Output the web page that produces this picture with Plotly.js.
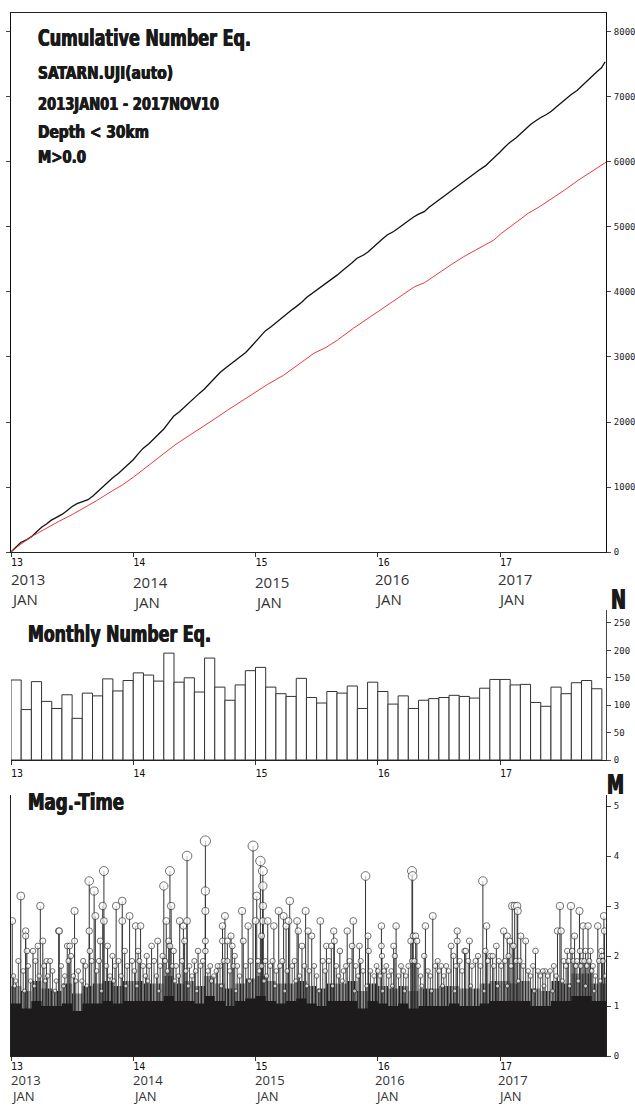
<!DOCTYPE html>
<html><head><meta charset="utf-8">
<script src="https://cdn.plot.ly/plotly-3.0.1.min.js"></script>
<style>html,body{margin:0;padding:0;background:#fff}#chart{width:635px;height:1106px}</style>
</head><body><div id="chart"></div>
<script>
// ---------------- DATA ----------------
const xStartYear = 2013.0;
const xEndYear = 2017.867;
const yearTickVals = [2013, 2014, 2015, 2016, 2017];
const yearTickText = ['13', '14', '15', '16', '17'];
const yearLabelText = ['2013', '2014', '2015', '2016', '2017'];
const monthLabelText = ['JAN', 'JAN', 'JAN', 'JAN', 'JAN'];

// Cumulative number (all events, black)
const cumAllYear = [2013.00,2013.04,2013.08,2013.13,2013.17,2013.21,2013.25,2013.29,2013.33,2013.38,2013.42,2013.46,2013.50,2013.54,2013.58,2013.63,2013.67,2013.71,2013.75,2013.79,2013.83,2013.88,2013.92,2013.96,
  2014.00,2014.04,2014.08,2014.13,2014.17,2014.21,2014.25,2014.29,2014.33,2014.38,2014.42,2014.46,2014.50,2014.54,2014.58,2014.63,2014.67,2014.71,2014.75,2014.79,2014.83,2014.88,2014.92,2014.96,
  2015.00,2015.04,2015.08,2015.13,2015.17,2015.21,2015.25,2015.29,2015.33,2015.38,2015.42,2015.46,2015.50,2015.54,2015.58,2015.63,2015.67,2015.71,2015.75,2015.79,2015.83,2015.88,2015.92,2015.96,
  2016.00,2016.04,2016.08,2016.13,2016.17,2016.21,2016.25,2016.29,2016.33,2016.38,2016.42,2016.46,2016.50,2016.54,2016.58,2016.63,2016.67,2016.71,2016.75,2016.79,2016.83,2016.88,2016.92,2016.96,
  2017.00,2017.04,2017.08,2017.13,2017.17,2017.21,2017.25,2017.29,2017.33,2017.38,2017.42,2017.46,2017.50,2017.54,2017.58,2017.63,2017.67,2017.71,2017.75,2017.79,2017.83,2017.86];
const cumAllCount = [0,75,146,190,240,310,381,430,490,540,582,640,700,745,777,805,860,930,1000,1070,1140,1210,1280,1350,
  1420,1510,1594,1670,1749,1820,1893,1990,2088,2160,2230,2305,2380,2440,2504,2600,2690,2760,2823,2880,2932,3000,3069,3150,
  3232,3320,3401,3470,3534,3595,3655,3715,3771,3845,3920,3975,4034,4085,4138,4200,4263,4325,4385,4450,4520,4565,4614,4685,
  4756,4820,4881,4930,4983,5040,5100,5150,5194,5235,5303,5360,5415,5470,5529,5590,5647,5705,5763,5820,5876,5940,6007,6080,
  6154,6230,6301,6370,6438,6510,6576,6630,6681,6730,6779,6845,6912,6975,7033,7100,7173,7245,7318,7385,7448,7540];

// Cumulative number (red series)
const cumRedYear = [2013.00,2013.08,2013.18,2013.29,2013.39,2013.50,2013.59,2013.70,2013.81,2013.91,2014.00,2014.08,2014.16,2014.25,2014.34,2014.44,2014.55,2014.66,2014.77,2014.88,2014.98,
  2015.10,2015.23,2015.37,2015.48,2015.58,2015.67,2015.80,2015.94,2016.05,2016.17,2016.30,2016.38,2016.50,2016.60,2016.70,2016.83,2016.95,2017.01,2017.12,2017.23,2017.33,2017.42,2017.53,2017.64,2017.75,2017.87];
const cumRedCount = [0,120,250,370,470,575,670,790,920,1030,1150,1265,1385,1510,1645,1770,1900,2040,2180,2310,2440,
  2580,2720,2910,3060,3150,3260,3440,3620,3770,3920,4080,4140,4300,4420,4540,4680,4800,4900,5060,5210,5320,5430,5570,5720,5860,6000];

// Monthly number of events
const monthLabels = ['2013-01','2013-02','2013-03','2013-04','2013-05','2013-06','2013-07','2013-08','2013-09','2013-10','2013-11','2013-12',
  '2014-01','2014-02','2014-03','2014-04','2014-05','2014-06','2014-07','2014-08','2014-09','2014-10','2014-11','2014-12',
  '2015-01','2015-02','2015-03','2015-04','2015-05','2015-06','2015-07','2015-08','2015-09','2015-10','2015-11','2015-12',
  '2016-01','2016-02','2016-03','2016-04','2016-05','2016-06','2016-07','2016-08','2016-09','2016-10','2016-11','2016-12',
  '2017-01','2017-02','2017-03','2017-04','2017-05','2017-06','2017-07','2017-08','2017-09','2017-10'];
const monthlyCount = [146,92,143,107,94,119,76,122,117,148,126,145,
  159,155,144,195,142,150,124,186,133,109,137,163,
  169,133,121,116,149,114,104,125,122,135,94,142,
  125,102,117,94,109,112,114,118,116,113,131,147,
  147,137,138,105,98,133,121,141,145,130];

// Dense magnitude mass: top of the solid black area, per month
const denseTopMag = [1.05,0.95,1.10,1.00,1.00,1.05,0.90,1.05,1.05,1.10,1.05,1.10,
  1.10,1.10,1.10,1.20,1.10,1.10,1.05,1.20,1.10,1.00,1.10,1.15,
  1.20,1.10,1.05,1.10,1.15,1.05,1.00,1.10,1.10,1.10,0.95,1.10,
  1.05,1.00,1.05,0.95,1.00,1.00,1.00,1.05,1.00,1.00,1.05,1.10,
  1.10,1.10,1.10,1.00,1.00,1.10,1.10,1.20,1.20,1.10];
// Dense magnitude mass: top of the hatched (crowded stems) area, per month
const hatchTopMag = [1.40,1.30,1.50,1.35,1.30,1.45,1.25,1.40,1.45,1.50,1.40,1.50,
  1.50,1.45,1.45,1.60,1.45,1.50,1.40,1.60,1.45,1.35,1.45,1.55,
  1.60,1.50,1.45,1.45,1.50,1.40,1.35,1.45,1.45,1.50,1.30,1.45,
  1.40,1.35,1.40,1.30,1.35,1.35,1.40,1.40,1.35,1.35,1.45,1.50,
  1.50,1.45,1.50,1.35,1.30,1.50,1.45,1.65,1.65,1.45];

// Larger events (M >= ~1.8)
const bigEventYear = [2013.01,2013.08,2013.12,2013.12,2013.13,2013.18,2013.22,2013.24,2013.26,2013.29,2013.32,2013.39,2013.395,2013.46,2013.48,2013.49,2013.52,2013.52,2013.59,
  2013.64,2013.64,2013.645,2013.68,2013.69,2013.73,2013.75,2013.76,2013.76,2013.79,2013.83,2013.86,2013.91,2013.91,2013.93,2013.97,
  2014.02,2014.04,2014.06,2014.11,2014.15,2014.20,2014.25,2014.27,2014.29,2014.30,2014.30,2014.31,2014.33,2014.38,2014.41,2014.42,2014.44,2014.44,
  2014.50,2014.53,2014.59,2014.59,2014.59,2014.59,2014.59,2014.69,2014.73,2014.73,2014.75,2014.77,2014.80,2014.81,2014.83,2014.89,2014.90,2014.94,2014.98,
  2015.00,2015.01,2015.04,2015.06,2015.06,2015.06,2015.06,2015.05,2015.10,2015.15,2015.19,2015.23,2015.25,2015.27,2015.28,2015.34,2015.35,2015.38,2015.41,2015.43,2015.46,
  2015.53,2015.58,2015.62,2015.64,2015.645,2015.69,2015.75,2015.79,2015.80,2015.85,2015.86,2015.90,2015.92,2015.925,2015.99,
  2016.03,2016.03,2016.035,2016.13,2016.14,2016.15,2016.28,2016.285,2016.29,2016.31,2016.27,2016.32,2016.28,2016.30,2016.38,2016.39,2016.45,2016.49,2016.52,2016.60,2016.62,2016.65,2016.65,2016.71,
  2016.72,2016.75,2016.82,2016.86,2016.88,2016.89,2016.92,2016.94,2016.97,
  2017.03,2017.06,2017.08,2017.10,2017.11,2017.12,2017.14,2017.145,2017.17,2017.21,2017.29,2017.35,2017.47,2017.49,2017.50,2017.55,2017.58,2017.59,2017.61,
  2017.65,2017.655,2017.68,2017.70,2017.72,2017.74,2017.76,2017.80,2017.83,2017.835,2017.85,2017.855];
const bigEventMag = [2.7,3.2,2.5,2.4,2.1,2.1,2.2,3.0,2.3,1.9,1.9,2.5,2.5,2.2,2.2,2.0,2.9,2.3,1.9,
  3.5,2.5,2.1,3.3,2.8,2.3,3.0,3.7,2.7,2.2,2.0,3.0,3.1,2.7,2.1,2.8,
  2.6,2.1,2.6,2.0,2.2,2.3,3.4,2.7,2.3,3.7,2.2,3.0,2.1,2.7,2.6,2.3,4.0,2.7,
  1.9,2.1,4.3,3.3,2.9,2.3,2.1,1.8,2.6,2.3,2.8,2.3,2.4,2.2,2.0,2.9,2.3,2.6,4.2,
  2.7,3.2,3.9,3.7,3.4,3.0,2.7,2.4,2.7,2.6,2.9,2.8,2.6,2.7,3.1,2.7,2.5,2.2,2.9,2.5,2.4,
  2.7,2.2,2.2,2.5,2.3,2.1,2.5,2.2,2.7,2.2,1.9,3.6,2.4,2.1,1.8,
  2.6,2.2,2.0,2.2,2.0,2.6,3.7,3.6,2.4,2.4,2.3,2.3,1.9,1.9,2.0,2.6,2.8,1.9,1.8,2.2,2.0,2.5,2.3,2.1,
  2.1,2.3,2.0,3.5,2.1,2.6,2.0,2.0,2.2,
  2.5,2.4,2.3,3.0,2.2,3.0,3.0,2.9,2.4,2.3,2.1,1.7,2.5,3.0,2.5,2.1,3.0,2.1,2.4,
  2.9,2.1,2.6,2.1,2.6,2.1,1.8,2.6,2.1,2.0,2.8,2.5];

// Smaller visible events (M ~1.3 - 2.0)
const smallEventYear = [2013.02,2013.04,2013.06,2013.10,2013.14,2013.16,2013.20,2013.23,2013.27,2013.30,2013.34,2013.37,2013.41,2013.44,2013.47,2013.51,2013.55,2013.58,2013.61,2013.66,2013.70,2013.72,2013.78,2013.81,2013.85,2013.88,2013.90,2013.95,2013.99,
  2014.01,2014.05,2014.08,2014.10,2014.13,2014.17,2014.19,2014.22,2014.24,2014.26,2014.28,2014.32,2014.35,2014.37,2014.40,2014.43,2014.46,2014.48,2014.51,2014.55,2014.57,2014.61,2014.63,2014.66,2014.68,2014.71,2014.74,2014.77,2014.79,2014.82,2014.85,2014.87,2014.92,2014.96,
  2015.02,2015.03,2015.05,2015.08,2015.09,2015.12,2015.14,2015.17,2015.20,2015.22,2015.26,2015.30,2015.32,2015.36,2015.40,2015.44,2015.48,2015.50,2015.55,2015.57,2015.60,2015.66,2015.68,2015.72,2015.74,2015.77,2015.82,2015.84,2015.88,2015.94,2015.97,
  2016.00,2016.02,2016.05,2016.07,2016.09,2016.11,2016.17,2016.19,2016.21,2016.23,2016.25,2016.33,2016.35,2016.41,2016.43,2016.47,2016.50,2016.54,2016.56,2016.58,2016.64,2016.67,2016.69,2016.74,2016.77,2016.80,2016.84,2016.90,2016.95,2016.99,
  2017.01,2017.04,2017.07,2017.09,2017.13,2017.16,2017.19,2017.23,2017.25,2017.27,2017.31,2017.33,2017.37,2017.39,2017.41,2017.44,2017.46,2017.52,2017.54,2017.56,2017.60,2017.62,2017.63,2017.66,2017.67,2017.69,2017.71,2017.73,2017.75,2017.78,2017.81,2017.84,2017.86,
  2013.03,2013.11,2013.19,2013.28,2013.36,2013.43,2013.53,2013.62,2013.74,2013.84,2013.94,2014.03,2014.12,2014.21,2014.34,2014.45,2014.52,2014.64,2014.72,2014.84,2014.95,
  2015.07,2015.16,2015.24,2015.33,2015.42,2015.52,2015.63,2015.71,2015.81,2015.91,2016.04,2016.12,2016.22,2016.36,2016.44,2016.53,2016.63,2016.76,2016.87,2016.98,
  2017.06,2017.15,2017.28,2017.36,2017.43,2017.51,2017.57,2017.64,2017.70,2017.77,2017.82];
const smallEventMag = [1.6,1.5,1.9,1.7,1.8,1.5,1.9,1.6,1.8,1.6,1.7,1.5,1.8,1.6,1.9,1.6,1.7,1.5,1.8,1.9,1.7,1.9,1.8,1.6,1.8,1.9,1.6,1.8,1.9,
  1.7,1.9,1.8,1.6,1.8,1.9,1.6,1.8,2.0,1.9,1.7,1.8,1.8,1.6,1.9,1.7,1.8,1.6,1.7,1.8,1.9,1.7,1.8,1.6,1.7,1.8,1.9,1.9,1.7,1.8,1.8,1.6,1.8,1.9,
  1.9,1.7,1.8,1.9,1.6,1.8,1.9,1.7,1.8,1.9,1.7,1.8,1.9,1.6,1.8,1.7,1.8,1.6,1.9,1.7,1.9,1.8,1.6,1.7,1.8,1.9,1.8,1.6,1.7,1.7,1.6,
  1.7,1.6,1.7,1.8,1.6,1.7,1.6,1.8,1.7,1.6,1.8,1.8,1.6,1.7,1.6,1.8,1.7,1.6,1.8,1.7,1.8,1.9,1.7,1.9,1.8,1.9,1.8,1.9,1.8,1.9,
  1.8,1.9,2.0,1.8,1.9,1.9,1.8,1.7,1.6,1.8,1.7,1.6,1.7,1.6,1.7,1.8,1.6,1.9,1.8,1.9,1.9,1.8,1.9,1.8,1.9,1.9,1.8,1.9,1.7,1.6,1.9,1.9,1.6,
  1.4,1.3,1.4,1.5,1.3,1.4,1.5,1.4,1.3,1.5,1.4,1.4,1.5,1.3,1.5,1.4,1.3,1.5,1.4,1.3,1.5,
  1.5,1.4,1.3,1.5,1.4,1.3,1.4,1.5,1.3,1.4,1.3,1.4,1.3,1.4,1.3,1.4,1.3,1.4,1.3,1.4,
  1.4,1.5,1.3,1.4,1.3,1.5,1.4,1.5,1.4,1.3,1.5];

// ---------------- BUILD ----------------
const W = 635, H = 1106;
const px = v => v / W;
const py = v => 1 - v / H;
const xDom = [px(11), px(606)];

function monthCenter(lbl) { const [y, m] = lbl.split('-').map(Number); return y + (m - 0.5) / 12; }
function monthStart(lbl) { const [y, m] = lbl.split('-').map(Number); return y + (m - 1) / 12; }

function stems(xs, ys) {
  const sx = [], sy = [];
  xs.forEach((x, i) => { sx.push(x, x, null); sy.push(0, ys[i], null); });
  return {x: sx, y: sy};
}
const bigSt = stems(bigEventYear, bigEventMag);
const smallSt = stems(smallEventYear, smallEventMag);

const envX = monthLabels.map(monthStart).concat([xEndYear]);
const denseY = denseTopMag.concat([denseTopMag[denseTopMag.length - 1]]);
const hatchY = hatchTopMag.concat([hatchTopMag[hatchTopMag.length - 1]]);

const traces = [
  {type: 'scatter', mode: 'lines', x: cumAllYear, y: cumAllCount, xaxis: 'x', yaxis: 'y',
   line: {color: '#111', width: 1.3}, hoverinfo: 'skip'},
  {type: 'scatter', mode: 'lines', x: cumRedYear, y: cumRedCount, xaxis: 'x', yaxis: 'y',
   line: {color: '#ee3a3a', width: 1}, hoverinfo: 'skip'},
  {type: 'bar', x: monthLabels.map(monthCenter), y: monthlyCount, width: 1 / 12, xaxis: 'x2', yaxis: 'y2',
   marker: {color: '#fff', line: {color: '#333', width: 1}}, hoverinfo: 'skip'},
  {type: 'scatter', mode: 'lines', x: envX, y: hatchY, xaxis: 'x3', yaxis: 'y3',
   line: {width: 0, shape: 'hv', color: '#444'}, fill: 'tozeroy',
   fillpattern: {shape: '|', size: 3, solidity: 0.65, fgcolor: '#222', bgcolor: '#fff'}, hoverinfo: 'skip'},
  {type: 'scatter', mode: 'lines', x: smallSt.x, y: smallSt.y, xaxis: 'x3', yaxis: 'y3',
   line: {color: '#555', width: 1}, hoverinfo: 'skip'},
  {type: 'scatter', mode: 'lines', x: bigSt.x, y: bigSt.y, xaxis: 'x3', yaxis: 'y3',
   line: {color: '#333', width: 1}, hoverinfo: 'skip'},
  {type: 'scatter', mode: 'lines', x: envX, y: denseY, xaxis: 'x3', yaxis: 'y3',
   line: {width: 0, shape: 'hv', color: '#1e1b1c'}, fill: 'tozeroy', fillcolor: '#1e1b1c', hoverinfo: 'skip'},
  {type: 'scatter', mode: 'markers', x: smallEventYear, y: smallEventMag, xaxis: 'x3', yaxis: 'y3',
   marker: {symbol: 'circle', color: '#fff', size: smallEventMag.map(m => 1.2 + 2.1 * m), line: {color: '#222', width: 0.9}}, hoverinfo: 'skip'},
  {type: 'scatter', mode: 'markers', x: bigEventYear, y: bigEventMag, xaxis: 'x3', yaxis: 'y3',
   marker: {symbol: 'circle', color: '#fff', size: bigEventMag.map(m => 1.2 + 2.1 * m), line: {color: '#222', width: 0.9}}, hoverinfo: 'skip'}
];

const tickFont = {family: 'DejaVu Sans Mono, monospace', size: 9, color: '#222'};
const xTickFont = {family: 'DejaVu Sans Mono, monospace', size: 10, color: '#111'};

function xAxis(anchor, mirror) {
  return {domain: xDom, range: [xStartYear, xEndYear], anchor: anchor, showgrid: false, zeroline: false,
    showline: true, linecolor: '#222', linewidth: 1, mirror: mirror,
    ticks: 'outside', ticklen: 4, tickcolor: '#333', tickvals: yearTickVals, ticktext: yearTickText,
    tickfont: xTickFont, ticklabelshift: 6, ticklabelstandoff: 0, fixedrange: true};
}
function yAxis(anchor, dom, range, tv, mirror) {
  return {domain: dom, range: range, anchor: anchor, side: 'right', showgrid: false, zeroline: false,
    showline: true, linecolor: '#444', linewidth: 1, mirror: mirror,
    ticks: 'outside', ticklen: 4, tickcolor: '#444', tickvals: tv, ticktext: tv.map(String),
    tickfont: tickFont, ticklabelstandoff: 1, fixedrange: true};
}

const headFont = (size) => ({family: 'DejaVu Sans, sans-serif', size: size,
  color: '#1a1a1a', weight: 'bold', shadow: '0.6px 0 0 #1a1a1a, -0.6px 0 0 #1a1a1a'});
const yrFont = {family: 'Open Sans, Noto Sans, sans-serif', size: 15, color: '#333'};
const yrFontB = {family: 'Open Sans, Noto Sans, sans-serif', size: 13, color: '#333'};

const annotations = [];
const condensedWidth = [];   // target drawn width (px) for heading texts, by annotation index
function txt(text, x, y, font, width, yanchor, xanchor) {
  annotations.push({text: text, xref: 'paper', yref: 'paper', x: px(x), y: py(y), xanchor: xanchor || 'left', align: 'left',
    yanchor: yanchor || 'middle', showarrow: false, font: font, borderpad: 0});
  condensedWidth.push(width || 0);
}
txt('Cumulative Number Eq.', 37, 38, headFont(23), 213);
txt('SATARN.UJI(auto)', 37, 73, headFont(18), 135);
txt('2013JAN01 - 2017NOV10', 37, 103, headFont(18), 181);
txt('Depth &lt; 30km', 37, 132, headFont(18), 111);
txt('M&gt;0.0', 37, 156, headFont(18), 48);
txt('Monthly Number Eq.', 27, 634, headFont(23), 183);
txt('Mag.-Time', 27, 802, headFont(23), 96);
txt('N', 634, 600, headFont(26), 15, 'middle', 'right');
txt('M', 634, 785, headFont(26), 17, 'middle', 'right');

const yrX = [10, 132, 254, 374, 497];
const yrTopY = [579, 582, 582, 579, 579];
const yrBotY = [1079.5, 1079.5, 1079.5, 1079.5, 1079.5];
yearLabelText.forEach((t, i) => {
  txt(t, yrX[i], yrTopY[i], yrFont);
  txt(monthLabelText[i], yrX[i], yrTopY[i] + 20, yrFont);
  txt(t, yrX[i], yrBotY[i], yrFontB);
  txt(monthLabelText[i], yrX[i], 1106, yrFontB, 0, 'bottom');
});

const layout = {
  width: W, height: H, margin: {l: 0, r: 0, t: 0, b: 0}, paper_bgcolor: '#fff', plot_bgcolor: 'rgba(0,0,0,0)',
  showlegend: false, bargap: 0,
  xaxis: xAxis('y', true),
  yaxis: yAxis('x', [py(552), py(13)], [0, 8292], [0,1000,2000,3000,4000,5000,6000,7000,8000], 'ticks'),
  xaxis2: xAxis('y2', false),
  yaxis2: yAxis('x2', [py(760), py(610)], [0, 273.7], [0,50,100,150,200,250], false),
  xaxis3: xAxis('y3', false),
  yaxis3: yAxis('x3', [py(1056), py(795)], [0, 5.22], [0,1,2,3,4,5], true),
  annotations: annotations
};
layout.yaxis.linecolor = '#111';
layout.yaxis3.linecolor = '#222';
layout.xaxis.ticklabelstandoff = -3;
layout.xaxis3.ticklabelstandoff = -3;

Plotly.newPlot('chart', traces, layout, {staticPlot: true, displayModeBar: false}).then(gd => {
  // condense the heavy heading texts to their drawn width in the reference
  gd.querySelectorAll('g.annotation').forEach(g => {
    const idx = +g.getAttribute('data-index');
    const target = condensedWidth[idx];
    if (!target) return;
    const t = g.querySelector('text.annotation-text');
    if (!t) return;
    const bb = t.getBBox();
    t.setAttribute('text-anchor', 'start');
    t.setAttribute('x', bb.x);
    t.querySelectorAll('tspan').forEach(s => { if (s.hasAttribute('x')) s.setAttribute('x', bb.x); });
    t.setAttribute('textLength', target);
    t.setAttribute('lengthAdjust', 'spacingAndGlyphs');
  });
});
</script></body></html>
